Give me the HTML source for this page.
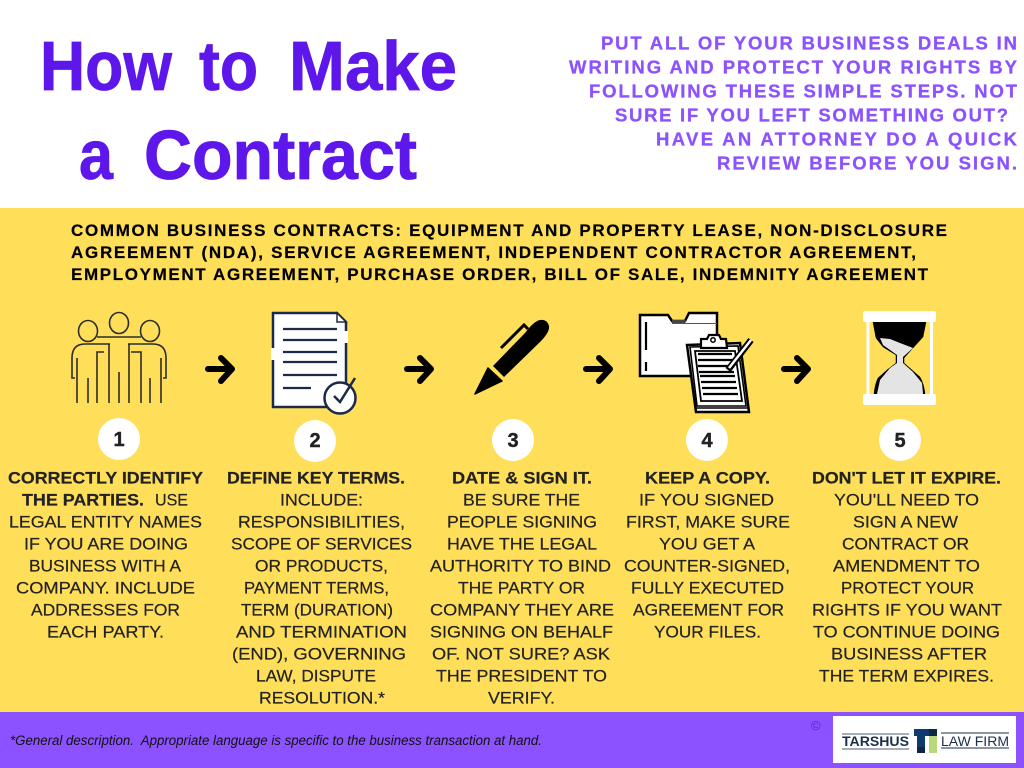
<!DOCTYPE html>
<html lang="en"><head><meta charset="utf-8"><title>How to Make a Contract</title>
<style>
html,body{margin:0;padding:0;background:#fff;width:1024px;height:768px;overflow:hidden}
svg{display:block}
text{font-family:"Liberation Sans",sans-serif;white-space:pre}
.t{font-size:70px;font-weight:700;fill:#5e17eb;stroke:#5e17eb;stroke-width:.8}
.p{font-size:18.5px;font-weight:700;fill:#8c52ff;stroke:#8c52ff;stroke-width:.3}
.c{font-size:17px;font-weight:700;fill:#000;stroke:#000;stroke-width:.2}
.b{font-size:17px;fill:#222;stroke:#222;stroke-width:.2}
.h{font-weight:700;stroke-width:.2}
.n{font-size:20px;font-weight:700;fill:#222;text-anchor:middle;stroke:#222;stroke-width:.4}
</style></head><body>
<svg width="1024" height="768" viewBox="0 0 1024 768" xmlns="http://www.w3.org/2000/svg">
<rect width="1024" height="208" fill="#fff"/>
<rect y="208" width="1024" height="504" fill="#ffde59"/>
<rect y="712" width="1024" height="56" fill="#8c52ff"/>

<text class="t" x="40" y="90" textLength="132" lengthAdjust="spacingAndGlyphs">How</text>
<text class="t" x="199" y="90" textLength="59" lengthAdjust="spacingAndGlyphs">to</text>
<text class="t" x="289" y="90" textLength="168" lengthAdjust="spacingAndGlyphs">Make</text>
<text class="t" x="79" y="179" textLength="34" lengthAdjust="spacingAndGlyphs">a</text>
<text class="t" x="144" y="179" textLength="273" lengthAdjust="spacingAndGlyphs">Contract</text>

<text class="p" x="601" y="49.500" textLength="416">PUT ALL OF YOUR BUSINESS DEALS IN</text>
<text class="p" x="569" y="73.500" textLength="448">WRITING AND PROTECT YOUR RIGHTS BY</text>
<text class="p" x="589" y="97.500" textLength="428">FOLLOWING THESE SIMPLE STEPS. NOT</text>
<text class="p" x="615" y="121.500" textLength="393">SURE IF YOU LEFT SOMETHING OUT?</text>
<text class="p" x="656" y="145.500" textLength="361">HAVE AN ATTORNEY DO A QUICK</text>
<text class="p" x="717" y="169.500" textLength="300">REVIEW BEFORE YOU SIGN.</text>

<text class="c" x="71" y="236" textLength="876">COMMON BUSINESS CONTRACTS: EQUIPMENT AND PROPERTY LEASE, NON-DISCLOSURE</text>
<text class="c" x="71" y="258" textLength="845">AGREEMENT (NDA), SERVICE AGREEMENT, INDEPENDENT CONTRACTOR AGREEMENT,</text>
<text class="c" x="71" y="280" textLength="857">EMPLOYMENT AGREEMENT, PURCHASE ORDER, BILL OF SALE, INDEMNITY AGREEMENT</text>

<!-- icon 1 -->
<g fill="none" stroke="#2c2c2c" stroke-width="1.6">
<ellipse cx="88" cy="331" rx="9.500" ry="10.500"/><ellipse cx="119" cy="323" rx="9.500" ry="10.500"/><ellipse cx="150" cy="331" rx="9.500" ry="10.500"/>
<path d="M97 337H141M110 344H85Q72 344 72 358V378H75M77 358V403M88 378V403M97 403V352H104M109 344V403M119 372V403M128 344H153Q166 344 166 358V378H163M161 358V403M150 378V403M141 403V352H131M129 344V403"/>
</g>

<!-- icon 2 -->
<path d="M273 313H337L346 322V407H273Z" fill="#fff" stroke="#1b2a4a" stroke-width="2.500"/>
<path d="M337 313V322H346Z" fill="#fff" stroke="#1b2a4a" stroke-width="1.500"/>
<rect x="271" y="348" width="4" height="12" fill="#fff"/><rect x="344" y="331" width="4" height="12" fill="#fff"/>
<path d="M283 329H337M283 340H337M283 352H337M283 362H337M283 375H337M283 388H311" stroke="#1b2a4a" stroke-width="2.200" fill="none"/>
<circle cx="340" cy="398" r="15.500" fill="#fff" stroke="#1b2a4a" stroke-width="2.500"/>
<path d="M334 396L340 402L355 378" fill="none" stroke="#1b2a4a" stroke-width="2.500"/>

<!-- arrows -->
<g fill="none" stroke="#000" stroke-width="6" stroke-linecap="round" stroke-linejoin="round">
<path d="M208 369H232M221 358L232 369L221 381"/>
<path d="M407 369H431M420 358L431 369L420 381"/>
<path d="M586 369H610M599 358L610 369L599 381"/>
<path d="M784 369H808M797 358L808 369L797 381"/>
</g>

<!-- icon 3 pen -->
<path d="M475 394L488 368L502 381Z" stroke="#000" stroke-width="1.500" stroke-linejoin="round"/>
<path d="M493 366L504 377L540 342Q550 332 549 326Q547 319 540 320Q534 321 525 333Z"/>
<path d="M501 348L524 325L528 329" fill="none" stroke="#000" stroke-width="3"/>

<!-- icon 4 -->
<path d="M640 376V315H668L672 321H685L689 313H717V376Z" fill="#fff" stroke="#000" stroke-width="2.500"/>
<path d="M672 320H686L685 324H672Z" fill="#444"/>
<path d="M672 323.500H717" stroke="#555" stroke-width="1"/>
<path d="M646 322V350M646 362V371" stroke="#000" stroke-width="2.200"/>
<path d="M687 345L740 343L749 412H696Z" fill="#fff" stroke="#000" stroke-width="2.500"/>
<path d="M696 408H749" stroke="#000" stroke-width="1.500"/>
<path d="M690 347L738 346L746 406H697Z" fill="#fff" stroke="#000" stroke-width="1.600"/>
<path d="M695 351H735L742 401H701Z" fill="#fff" stroke="#000" stroke-width="1.800"/>
<path d="M701 339H707L709 335H719L721 339H726L727 348H701Z" fill="#fff" stroke="#000" stroke-width="2.200"/>
<circle cx="713" cy="340" r="2.200" fill="#fff" stroke="#000" stroke-width="1.500"/>
<path d="M698 354H732M698 360H733M698 366H733M699 372H734M700 376H735M701 382H736M702 388H737M703 394H738" stroke="#000" stroke-width="2.200"/>
<path d="M728 370L751 340" stroke="#000" stroke-width="6.500"/>
<path d="M729 368L751 340" stroke="#fff" stroke-width="2.500"/>

<!-- icon 5 -->
<rect x="866.500" y="320" width="3" height="76" fill="#fff"/><rect x="930" y="320" width="3" height="76" fill="#fff"/>
<path d="M873 322H926L923 337L913 348L904 358V363L912 370L920 377Q924 384 925 394H874Q875 384 878 378L887 370L896 363V355L883 347L876 338Z" fill="#000" stroke="#000" stroke-width=".5"/>
<path d="M880 338L890 339L900 343L913 348L903 357V363L913 372L922 383L923 394H877L880 380L890 368L897 363V355L883 345Z" fill="#e4e4e4"/>
<rect x="863" y="311" width="73" height="11" rx="2" fill="#fff"/><rect x="863" y="394" width="73" height="11" rx="2" fill="#fff"/>

<!-- number circles -->
<g fill="#fff"><circle cx="119" cy="439" r="21"/><circle cx="315" cy="441" r="21"/><circle cx="513" cy="440" r="21"/><circle cx="707" cy="440" r="21"/><circle cx="900" cy="440" r="21"/></g>
<text class="n" x="119" y="446">1</text><text class="n" x="315" y="447">2</text><text class="n" x="513" y="447">3</text><text class="n" x="707" y="447">4</text><text class="n" x="900" y="447">5</text>

<!-- col 1 -->
<text class="b h" x="8" y="483.500" textLength="195" lengthAdjust="spacingAndGlyphs">CORRECTLY IDENTIFY</text>
<text class="b h" x="22" y="505.500" textLength="122" lengthAdjust="spacingAndGlyphs">THE PARTIES.</text><text class="b" x="155" y="505.500" textLength="33" lengthAdjust="spacingAndGlyphs">USE</text>
<text class="b" x="9" y="527.500" textLength="193" lengthAdjust="spacingAndGlyphs">LEGAL ENTITY NAMES</text>
<text class="b" x="24" y="549.500" textLength="164" lengthAdjust="spacingAndGlyphs">IF YOU ARE DOING</text>
<text class="b" x="29" y="571.500" textLength="152" lengthAdjust="spacingAndGlyphs">BUSINESS WITH A</text>
<text class="b" x="16" y="593.500" textLength="179" lengthAdjust="spacingAndGlyphs">COMPANY. INCLUDE</text>
<text class="b" x="31" y="615.500" textLength="149" lengthAdjust="spacingAndGlyphs">ADDRESSES FOR</text>
<text class="b" x="47" y="637.500" textLength="117" lengthAdjust="spacingAndGlyphs">EACH PARTY.</text>

<!-- col 2 -->
<text class="b h" x="227" y="483.500" textLength="178" lengthAdjust="spacingAndGlyphs">DEFINE KEY TERMS.</text>
<text class="b" x="280" y="505.500" textLength="83" lengthAdjust="spacingAndGlyphs">INCLUDE:</text>
<text class="b" x="238" y="527.500" textLength="167" lengthAdjust="spacingAndGlyphs">RESPONSIBILITIES,</text>
<text class="b" x="231" y="549.500" textLength="181" lengthAdjust="spacingAndGlyphs">SCOPE OF SERVICES</text>
<text class="b" x="255" y="571.500" textLength="133" lengthAdjust="spacingAndGlyphs">OR PRODUCTS,</text>
<text class="b" x="244" y="593.500" textLength="145" lengthAdjust="spacingAndGlyphs">PAYMENT TERMS,</text>
<text class="b" x="241" y="615.500" textLength="152" lengthAdjust="spacingAndGlyphs">TERM (DURATION)</text>
<text class="b" x="236" y="637.500" textLength="171" lengthAdjust="spacingAndGlyphs">AND TERMINATION</text>
<text class="b" x="232" y="659.500" textLength="174" lengthAdjust="spacingAndGlyphs">(END), GOVERNING</text>
<text class="b" x="256" y="681.500" textLength="120" lengthAdjust="spacingAndGlyphs">LAW, DISPUTE</text>
<text class="b" x="259" y="703.500" textLength="126" lengthAdjust="spacingAndGlyphs">RESOLUTION.*</text>

<!-- col 3 -->
<text class="b h" x="452" y="483.500" textLength="140" lengthAdjust="spacingAndGlyphs">DATE &amp; SIGN IT.</text>
<text class="b" x="463" y="505.500" textLength="117" lengthAdjust="spacingAndGlyphs">BE SURE THE</text>
<text class="b" x="447" y="527.500" textLength="150" lengthAdjust="spacingAndGlyphs">PEOPLE SIGNING</text>
<text class="b" x="447" y="549.500" textLength="150" lengthAdjust="spacingAndGlyphs">HAVE THE LEGAL</text>
<text class="b" x="430" y="571.500" textLength="181" lengthAdjust="spacingAndGlyphs">AUTHORITY TO BIND</text>
<text class="b" x="458" y="593.500" textLength="127" lengthAdjust="spacingAndGlyphs">THE PARTY OR</text>
<text class="b" x="430" y="615.500" textLength="184" lengthAdjust="spacingAndGlyphs">COMPANY THEY ARE</text>
<text class="b" x="430" y="637.500" textLength="183" lengthAdjust="spacingAndGlyphs">SIGNING ON BEHALF</text>
<text class="b" x="432" y="659.500" textLength="178" lengthAdjust="spacingAndGlyphs">OF. NOT SURE? ASK</text>
<text class="b" x="436" y="681.500" textLength="171" lengthAdjust="spacingAndGlyphs">THE PRESIDENT TO</text>
<text class="b" x="488" y="703.500" textLength="67" lengthAdjust="spacingAndGlyphs">VERIFY.</text>

<!-- col 4 -->
<text class="b h" x="645" y="483.500" textLength="125" lengthAdjust="spacingAndGlyphs">KEEP A COPY.</text>
<text class="b" x="639" y="505.500" textLength="135" lengthAdjust="spacingAndGlyphs">IF YOU SIGNED</text>
<text class="b" x="626" y="527.500" textLength="164" lengthAdjust="spacingAndGlyphs">FIRST, MAKE SURE</text>
<text class="b" x="659" y="549.500" textLength="96" lengthAdjust="spacingAndGlyphs">YOU GET A</text>
<text class="b" x="624" y="571.500" textLength="166" lengthAdjust="spacingAndGlyphs">COUNTER-SIGNED,</text>
<text class="b" x="631" y="593.500" textLength="153" lengthAdjust="spacingAndGlyphs">FULLY EXECUTED</text>
<text class="b" x="633" y="615.500" textLength="151" lengthAdjust="spacingAndGlyphs">AGREEMENT FOR</text>
<text class="b" x="654" y="637.500" textLength="107" lengthAdjust="spacingAndGlyphs">YOUR FILES.</text>

<!-- col 5 -->
<text class="b h" x="812" y="483.500" textLength="189" lengthAdjust="spacingAndGlyphs">DON'T LET IT EXPIRE.</text>
<text class="b" x="834" y="505.500" textLength="145" lengthAdjust="spacingAndGlyphs">YOU'LL NEED TO</text>
<text class="b" x="853" y="527.500" textLength="105" lengthAdjust="spacingAndGlyphs">SIGN A NEW</text>
<text class="b" x="842" y="549.500" textLength="127" lengthAdjust="spacingAndGlyphs">CONTRACT OR</text>
<text class="b" x="833" y="571.500" textLength="147" lengthAdjust="spacingAndGlyphs">AMENDMENT TO</text>
<text class="b" x="841" y="593.500" textLength="133" lengthAdjust="spacingAndGlyphs">PROTECT YOUR</text>
<text class="b" x="812" y="615.500" textLength="190" lengthAdjust="spacingAndGlyphs">RIGHTS IF YOU WANT</text>
<text class="b" x="813" y="637.500" textLength="187" lengthAdjust="spacingAndGlyphs">TO CONTINUE DOING</text>
<text class="b" x="831" y="659.500" textLength="156" lengthAdjust="spacingAndGlyphs">BUSINESS AFTER</text>
<text class="b" x="819" y="681.500" textLength="175" lengthAdjust="spacingAndGlyphs">THE TERM EXPIRES.</text>

<!-- footer -->
<text x="10" y="745" font-size="13.500" font-style="italic" fill="#111" textLength="532" lengthAdjust="spacingAndGlyphs">*General description.  Appropriate language is specific to the business transaction at hand.</text>
<text x="811" y="730" font-size="13" fill="#5e17eb">©</text>
<rect x="833" y="716" width="183" height="47" fill="#fff"/>
<path d="M842 734H909M842 749H909" stroke="#8794a3" stroke-width="1.500"/>
<text x="842" y="746" font-size="13.500" font-weight="700" fill="#1b2f4a" textLength="67" lengthAdjust="spacingAndGlyphs">TARSHUS</text>
<rect x="914" y="729" width="23" height="7" fill="#0f3b6e"/>
<rect x="917" y="736" width="8" height="17" fill="#0f3b6e"/>
<rect x="917" y="747" width="8" height="6" fill="#10283f"/>
<rect x="929" y="736" width="8" height="17" fill="#b9d97a"/>
<rect x="929" y="729" width="8" height="7" fill="#10283f"/>
<path d="M941 733H1009M941 748H1009" stroke="#1b2f4a" stroke-width="1"/>
<text x="941" y="746" font-size="14" fill="#1b2f4a" textLength="68" lengthAdjust="spacingAndGlyphs">LAW FIRM</text>
</svg>
</body></html>
